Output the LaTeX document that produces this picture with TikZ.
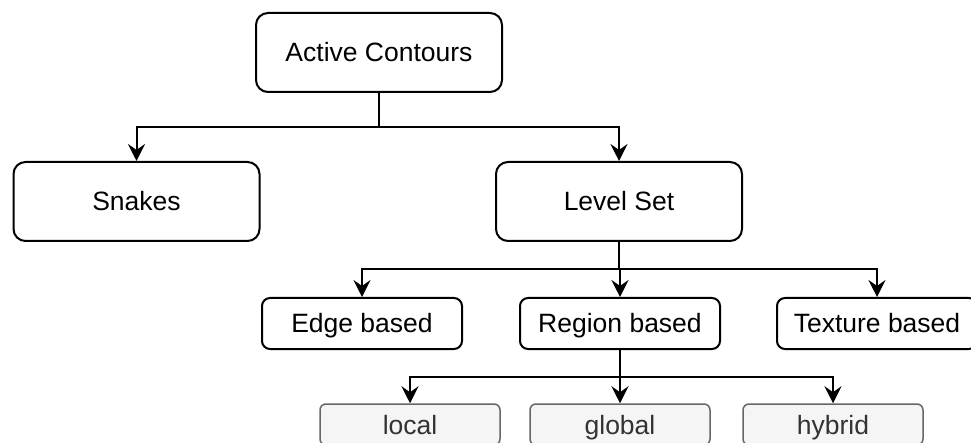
\documentclass[tikz,border=0pt]{standalone}
\usepackage{fontspec}
\setmainfont{Liberation Sans}
\usetikzlibrary{arrows.meta}
\definecolor{leafgray}{HTML}{F5F5F5}
\definecolor{leafline}{HTML}{666666}
\definecolor{leaftext}{HTML}{333333}
\begin{document}
\begin{tikzpicture}[x=1pt,y=-1pt,
  every node/.style={font=\fontsize{26.5}{30}\selectfont, text height=19pt, text depth=0pt, inner sep=0pt},
  bigbox/.style={draw=black, line width=2pt, rounded corners=12pt, minimum width=246pt, minimum height=79pt},
  midbox/.style={draw=black, line width=2pt, rounded corners=8pt, minimum width=200pt, minimum height=51pt},
  leafbox/.style={draw=leafline, fill=leafgray, line width=1.5pt, rounded corners=6pt, minimum width=180pt, minimum height=41pt, text=leaftext},
  link/.style={line width=2pt, line join=miter},
  arrow/.style={link, -{Stealth[length=17pt, width=17pt, inset=6pt]}}
]
\useasboundingbox (0,0) rectangle (971,443);
\clip (0,0) rectangle (971,443);

% tree nodes
\node[bigbox] (ac) at (379,52.5) {Active Contours};
\node[bigbox] (snakes) at (136.5,201.5) {Snakes};
\node[bigbox] (ls) at (619,201.5) {Level Set};

\node[midbox] (edge) at (362,323.5) {Edge based};
\node[midbox] (region) at (620,323.5) {Region based};
\node[midbox] (texture) at (877,323.5) {Texture based};

\node[leafbox] (local) at (410,424.5) {local};
\node[leafbox] (global) at (620,424.5) {global};
\node[leafbox] (hybrid) at (833,424.5) {hybrid};

% branching points
\coordinate (j1) at (379,127);
\coordinate (j2) at (619,269);
\coordinate (j3) at (620,377);

% connectors
\draw[link] (ac.south) -- (j1);
\draw[arrow] (j1) -| (snakes.north);
\draw[arrow] (j1) -| (ls.north);

\draw[link] (ls.south) -- (j2);
\draw[arrow] (j2) -| (edge.north);
\draw[arrow] (j2) -| (region.north);
\draw[arrow] (j2) -| (texture.north);

\draw[link] (region.south) -- (j3);
\draw[arrow] (j3) -| (local.north);
\draw[arrow] (j3) -- (global.north);
\draw[arrow] (j3) -| (hybrid.north);
\end{tikzpicture}
\end{document}
